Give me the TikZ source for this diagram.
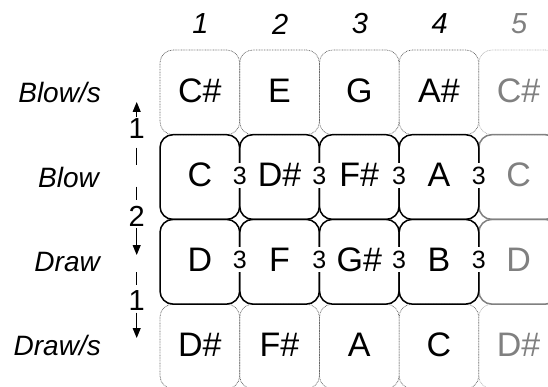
\documentclass[tikz,border=0pt]{standalone}
\usepackage{fontspec}
\setmainfont{Liberation Sans}
\usetikzlibrary{arrows.meta}
\definecolor{dotcol}{gray}{0.4}
\definecolor{dotlight}{gray}{0.7}
\definecolor{holegray}{gray}{0.5}
\newcommand\notesz{\fontsize{34}{38}\selectfont}
\newcommand\rowsz{\fontsize{28}{32}\selectfont\itshape}
\newcommand\hdrsz{\fontsize{29}{32}\selectfont\itshape}
\newcommand\arrsz{\fontsize{29}{32}\selectfont}
\newcommand\threesz{\fontsize{25}{28}\selectfont}
\begin{document}
\begin{tikzpicture}[x=1pt,y=-1pt,
  cell/.style={rectangle, rounded corners=13pt, minimum width=79.7pt, minimum height=84.7pt, inner sep=0pt, text depth=4pt, font=\notesz},
  solidcell/.style={cell, draw=black, line width=1.5pt},
  graycell/.style={cell, draw=holegray, line width=1.5pt, text=holegray},
  dotcell/.style={cell, draw=dotcol, line width=0.7pt, dash pattern=on 0.8pt off 0.8pt},
  dotgraycell/.style={cell, draw=dotlight, line width=0.7pt, dash pattern=on 0.8pt off 0.8pt, text=holegray},
  rowlab/.style={anchor=east, font=\rowsz, inner sep=0pt},
  hdr/.style={font=\hdrsz, inner sep=0pt},
  arrlab/.style={font=\arrsz, inner xsep=0pt, inner ysep=1.5pt},
  three/.style={font=\threesz, fill=white, inner xsep=0.5pt, inner ysep=4pt},
  arr/.style={line width=1pt, -{Triangle[length=10pt,width=8pt]}},
  dsh/.style={line width=1pt}]
\useasboundingbox (0,0) rectangle (548,387);
\clip (0,0) rectangle (548,387);
% header
\node[hdr] (h1) at (200.5,24) {1};
\node[hdr] (h2) at (280.2,24) {2};
\node[hdr] (h3) at (359.9,24) {3};
\node[hdr] (h4) at (439.6,24) {4};
\node[hdr, text=holegray] (h5) at (519.3,24) {5};
% row labels
\node[rowlab] (lbs) at (101,92) {Blow/s};
\node[rowlab] (lb) at (99,177) {Blow};
\node[rowlab] (ld) at (100,262) {Draw};
\node[rowlab] (lds) at (101,345) {Draw/s};
% dotted rows
\node[dotcell] (s1) at (199.85,92.35) {C\#};
\node[dotcell] (s2) at (279.55,92.35) {E};
\node[dotcell] (s3) at (359.25,92.35) {G};
\node[dotcell] (s4) at (438.95,92.35) {A\#};
\node[dotgraycell] (s5) at (518.65,92.35) {C\#};
\node[dotcell] (t1) at (199.85,346.45) {D\#};
\node[dotcell] (t2) at (279.55,346.45) {F\#};
\node[dotcell] (t3) at (359.25,346.45) {A};
\node[dotcell] (t4) at (438.95,346.45) {C};
\node[dotgraycell] (t5) at (518.65,346.45) {D\#};
% solid rows
\node[graycell] (b5) at (518.65,177.05) {C};
\node[graycell] (d5) at (518.65,261.75) {D};
\node[solidcell] (b1) at (199.85,177.05) {C};
\node[solidcell] (b2) at (279.55,177.05) {D\#};
\node[solidcell] (b3) at (359.25,177.05) {F\#};
\node[solidcell] (b4) at (438.95,177.05) {A};
\node[solidcell] (d1) at (199.85,261.75) {D};
\node[solidcell] (d2) at (279.55,261.75) {F};
\node[solidcell] (d3) at (359.25,261.75) {G\#};
\node[solidcell] (d4) at (438.95,261.75) {B};
% interval labels
\node[three] (x1) at (239.7,175.5) {3};
\node[three] (x2) at (319.4,175.5) {3};
\node[three] (x3) at (399.1,175.5) {3};
\node[three] (x4) at (478.8,175.5) {3};
\node[three] (y1) at (239.7,259.5) {3};
\node[three] (y2) at (319.4,259.5) {3};
\node[three] (y3) at (399.1,259.5) {3};
\node[three] (y4) at (478.8,259.5) {3};
% left arrows
\node[arrlab] (a1) at (136.7,129) {1};
\node[arrlab] (a2) at (136.7,216) {2};
\node[arrlab] (a3) at (136.7,301) {1};
\coordinate (tA) at (136.7,102);
\coordinate (tB) at (136.7,255);
\coordinate (tC) at (136.7,338);
\draw[arr] (a1.north) -- (tA);
\draw[dsh, dash pattern=on 0pt off 7pt on 17pt off 22pt on 13pt off 20pt] (a1.south) -- (a2.north);
\draw[arr] (a2.south) -- (tB);
\draw[dsh, dash pattern=on 0pt off 17pt on 13pt off 10pt] (tB) -- (a3.north);
\draw[arr] (a3.south) -- (tC);
\end{tikzpicture}
\end{document}
